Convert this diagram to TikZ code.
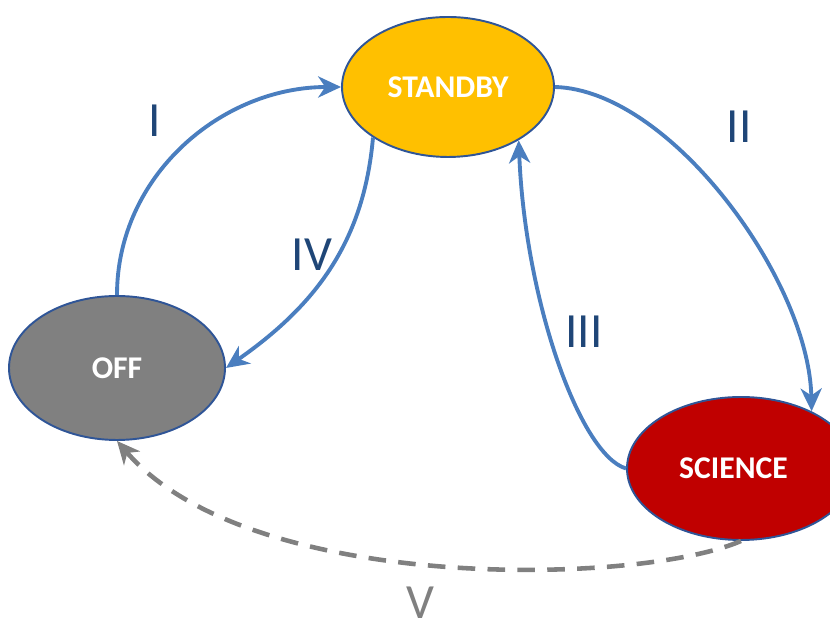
\documentclass[tikz,border=0pt]{standalone}
\usepackage{fontspec}
\setmainfont{Carlito}
\usetikzlibrary{arrows.meta}
\usetikzlibrary{shapes.geometric}
\definecolor{edgeblue}{HTML}{2F5597}
\definecolor{arrowblue}{HTML}{4A7EBF}
\definecolor{labelblue}{HTML}{1F4677}
\definecolor{standbyfill}{HTML}{FFC000}
\definecolor{offfill}{HTML}{808080}
\definecolor{sciencefill}{HTML}{C00000}
\definecolor{dashgray}{HTML}{808080}
\tikzset{
    state/.style={ellipse, draw=edgeblue, line width=1.1pt, text=white,
        font=\bfseries\fontsize{18}{20}\selectfont, inner sep=0pt},
    trans/.style={draw=arrowblue, line width=2.2pt, -{Stealth[length=13pt,width=12pt,inset=4pt]}},
    back/.style={draw=dashgray, line width=2.6pt, dash pattern=on 10pt off 7pt,
        -{Stealth[length=13pt,width=12pt,inset=4pt]}},
    step label/.style={text=labelblue, inner sep=0pt, font=\fontsize{28}{30}\selectfont}
}
\begin{document}
\begin{tikzpicture}
	\useasboundingbox (0,0) rectangle (16.6,12.48);
	% states
	\node[state, fill=standbyfill, minimum width=4.24cm, minimum height=2.8cm] (standby) at (8.96,10.74) {STANDBY};
	\node[state, fill=offfill, minimum width=4.32cm, minimum height=2.88cm] (off) at (2.34,5.12) {OFF};
	\node[state, fill=sciencefill, minimum width=4.56cm, minimum height=2.86cm] (science) at (14.82,3.11) {\hspace*{-0.3cm}SCIENCE};
	% transitions
	\draw[trans] (off.north) to[out=90, in=180] (standby.west);
	\draw[trans] (standby.east) .. controls (13.4,10.68) and (16.18,6.88) .. (science.39);
	\draw[trans] (standby.214) to[out=-95, in=35] (off.east);
	\draw[trans] (science.west) .. controls (11.6,3.38) and (10.5,6.48) .. (standby.323);
	\draw[back] (science.south) .. controls (12.8,0.78) and (5.0,0.58) .. (off.south);
	% labels
	\node[step label] (l1) at (3.1,10.06) {I};
	\node[step label] (l2) at (14.78,9.94) {II};
	\node[step label] (l4) at (6.24,7.38) {IV};
	\node[step label] (l3) at (11.68,5.84) {III};
	\node[step label, text=dashgray] (l5) at (8.4,0.42) {V};
\end{tikzpicture}
\end{document}
